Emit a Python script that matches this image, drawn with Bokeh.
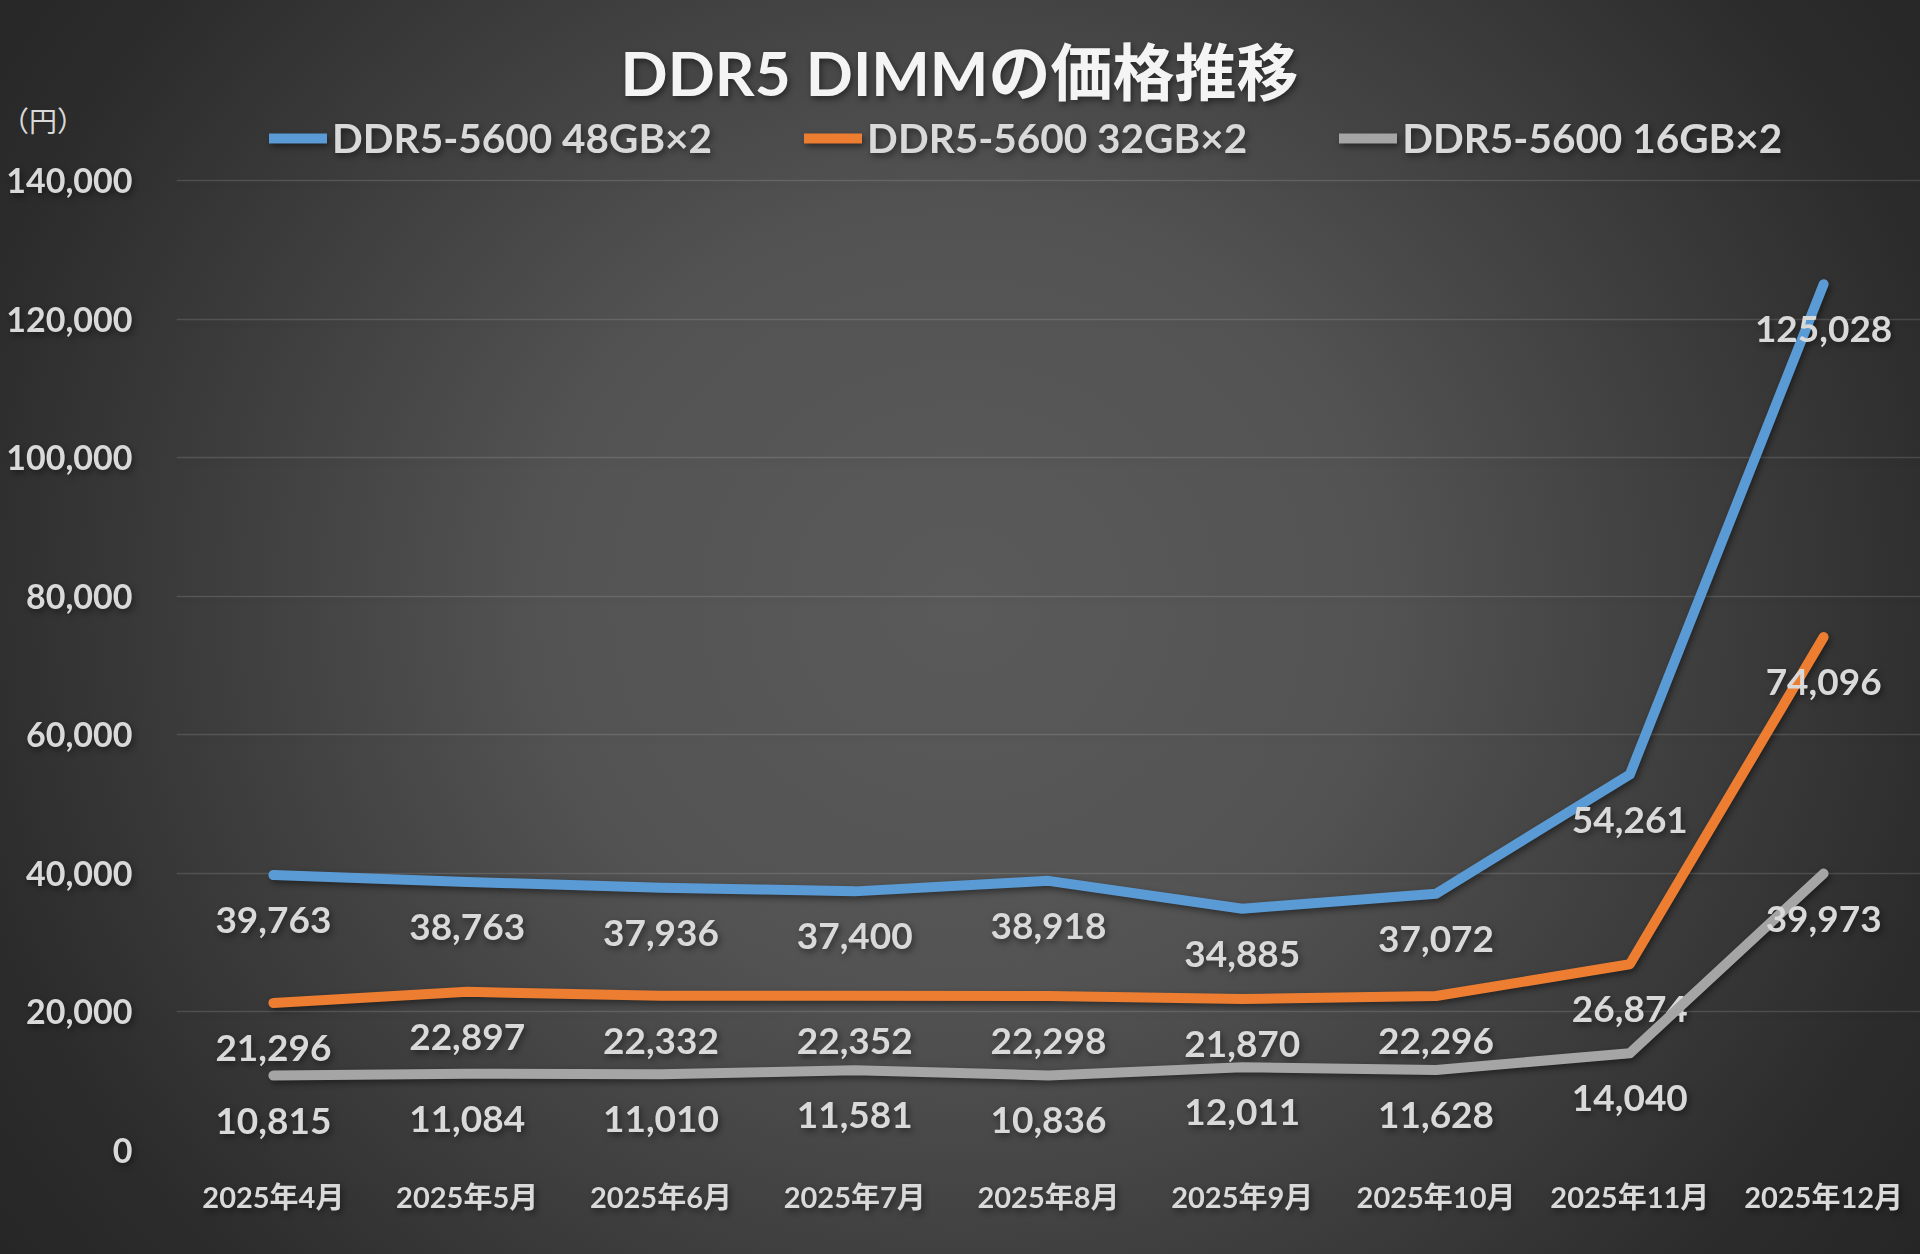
from bokeh.plotting import figure
from bokeh.layouts import column
from bokeh.models import (Range1d, FixedTicker, NumeralTickFormatter, ColumnDataSource,
                          Label, Legend, LegendItem, GlobalInlineStyleSheet, Div)
from bokeh.core.properties import value
from bokeh.embed import file_html
from bokeh.resources import INLINE

# ---- data ----
months = ["2025年4月", "2025年5月", "2025年6月", "2025年7月", "2025年8月",
          "2025年9月", "2025年10月", "2025年11月", "2025年12月"]
series_names = ["DDR5-5600 48GB×2", "DDR5-5600 32GB×2", "DDR5-5600 16GB×2"]
ddr5_48gb = [39763, 38763, 37936, 37400, 38918, 34885, 37072, 54261, 125028]
ddr5_32gb = [21296, 22897, 22332, 22352, 22298, 21870, 22296, 26874, 74096]
ddr5_16gb = [10815, 11084, 11010, 11581, 10836, 12011, 11628, 14040, 39973]
y_ticks = [0, 20000, 40000, 60000, 80000, 100000, 120000, 140000]
title_text = "DDR5 DIMMの価格推移"
unit_text = "（円）"

# ---- style ----
colors = ["#5b9bd5", "#ed7d31", "#a5a5a5"]
TXT = "#d9d9d9"
LATIN = "Lato, 'Noto Sans CJK JP'"
W, H = 1920, 1254
FRAME_BOTTOM = 104
FRAME_LEFT = 176
px_per_unit = (H - FRAME_BOTTOM - 180) / 140000.0
y_end = (H - FRAME_BOTTOM) / px_per_unit
FB = H - FRAME_BOTTOM  # frame height

p = figure(width=W, height=H, output_backend="svg", toolbar_location=None,
           x_range=Range1d(0.5, 9.5), y_range=Range1d(0, y_end),
           min_border_left=FRAME_LEFT, min_border_right=0, min_border_top=0,
           min_border_bottom=FRAME_BOTTOM)
p.outline_line_color = None
p.background_fill_alpha = 0
p.border_fill_alpha = 0

gradient_css = GlobalInlineStyleSheet(css="""
html { background: radial-gradient(ellipse 62% 88% at 50% 48%, #5a5a5a 0%, #535353 35%, #3e3e3e 62%, #2c2c2c 85%, #262626 100%); }
body { background: transparent; }
""")
p.stylesheets = [gradient_css]
p.styles = {"filter": "drop-shadow(2px 3px 3px rgba(0,0,0,0.45))"}

xs = list(range(1, len(months) + 1))

# axes
p.xaxis.ticker = FixedTicker(ticks=xs)
p.xaxis.major_label_overrides = {i: m for i, m in zip(xs, months)}
p.xaxis.axis_line_color = None
p.xaxis.major_tick_line_color = None
p.xaxis.minor_tick_line_color = None
p.xaxis.major_label_text_font = LATIN
p.xaxis.major_label_text_font_style = "bold"
p.xaxis.major_label_text_font_size = "29px"
p.xaxis.major_label_text_color = TXT
p.xaxis.major_label_standoff = 22
p.xgrid.grid_line_color = None

p.yaxis.ticker = FixedTicker(ticks=y_ticks)
p.yaxis.formatter = NumeralTickFormatter(format="0,0")
p.yaxis.axis_line_color = None
p.yaxis.major_tick_line_color = None
p.yaxis.minor_tick_line_color = None
p.yaxis.major_tick_out = 0
p.yaxis.major_label_text_font = LATIN
p.yaxis.major_label_text_font_style = "bold"
p.yaxis.major_label_text_font_size = "34px"
p.yaxis.major_label_text_color = TXT
p.yaxis.major_label_standoff = 44
p.ygrid.grid_line_color = "#d9d9d9"
p.ygrid.grid_line_alpha = 0.16
p.ygrid.grid_line_width = 1.5

renderers = []
for name, vals, col in zip(series_names, [ddr5_48gb, ddr5_32gb, ddr5_16gb], colors):
    src = ColumnDataSource(dict(x=xs, y=vals, lbl=[f"{v:,}" for v in vals]))
    r = p.line("x", "y", source=src, line_color=col, line_width=10,
               line_cap="round", line_join="round")
    renderers.append((name, r))
    p.text("x", "y", text="lbl", source=src, text_align="center", text_baseline="middle",
           y_offset=45, text_font=value(LATIN), text_font_style="bold",
           text_font_size="37px", text_color=TXT)

legend = Legend(items=[LegendItem(label=n, renderers=[r]) for n, r in renderers],
                orientation="horizontal", location=(93, 988),
                label_text_font=LATIN, label_text_font_style="bold",
                label_text_font_size="40.5px", label_text_color=TXT,
                glyph_width=58, glyph_height=40, label_standoff=5, spacing=92,
                padding=0, margin=0, border_line_color=None,
                background_fill_alpha=0)
p.add_layout(legend)

title = Label(x=959 - FRAME_LEFT, y=FB - 71, x_units="screen", y_units="screen",
              text=title_text, text_align="center", text_baseline="middle",
              text_font=LATIN, text_font_style="bold", text_font_size="62px",
              text_color="#f4f4f4")
p.add_layout(title)

# unit label sits left of the plot frame (outside the frame clip), so it is an HTML overlay
unit = Div(text=unit_text,
           styles={"position": "absolute", "left": "1px", "top": "104px",
                   "color": TXT, "font-family": "'Noto Sans CJK JP', sans-serif",
                   "font-size": "28px", "line-height": "32px", "z-index": "5",
                   "margin": "0", "padding": "0"})

layout = column(p, unit, styles={"position": "relative"})
open("out.html", "w").write(file_html(layout, INLINE))
